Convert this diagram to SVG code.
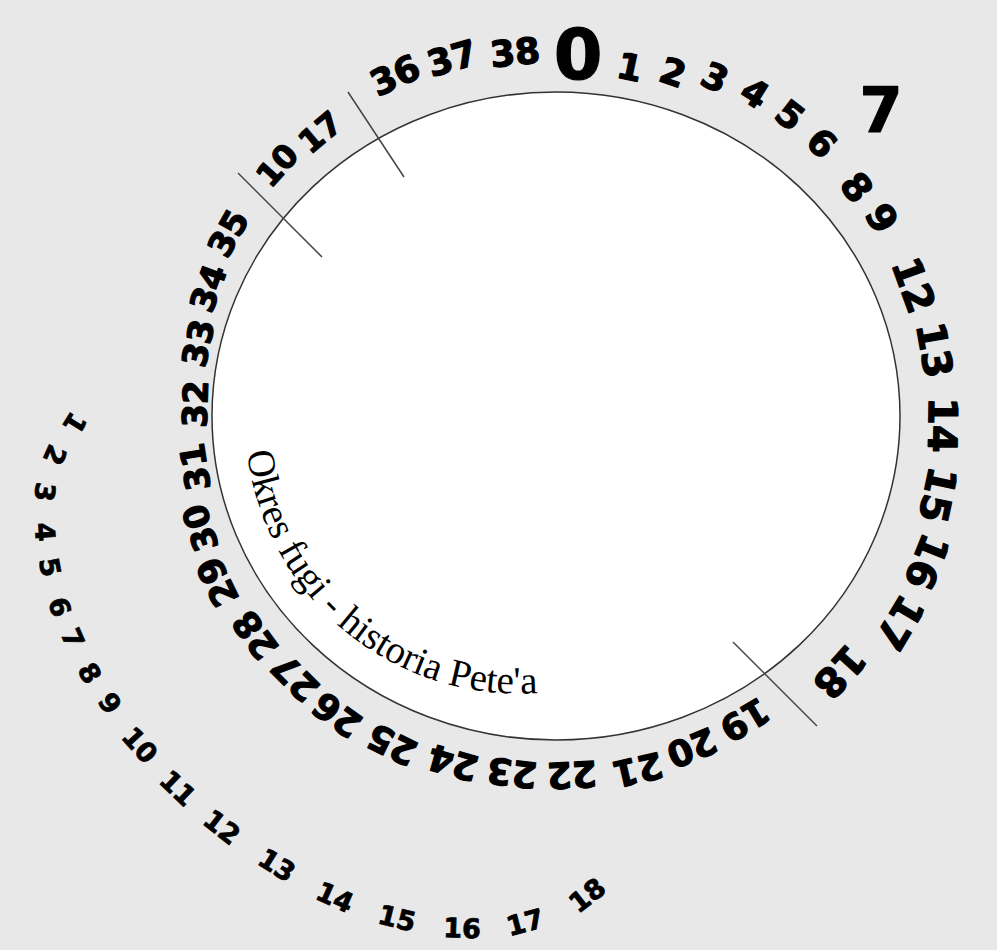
<svg xmlns="http://www.w3.org/2000/svg" width="997" height="950" viewBox="0 0 997 950">
<defs>
<style>
.n{font-family:"DejaVu Sans",sans-serif;font-weight:bold;text-anchor:middle;fill:#000;stroke:#000;stroke-width:1.2;stroke-linejoin:round}
.s{font-family:"DejaVu Sans",sans-serif;font-weight:bold;text-anchor:middle;fill:#000;stroke:#000;stroke-width:0.8;font-size:27px}
.tick{stroke:#444;stroke-width:1.5}
.title{font-family:"Liberation Serif","Times New Roman",serif;font-size:39px;fill:#000}
</style>
<path id="arc" d="M 247 452 A 274 274 0 0 0 720 606"/>
</defs>
<rect width="997" height="950" fill="#e8e8e8"/>
<g id="disc">
<ellipse cx="556" cy="416" rx="344" ry="324" fill="#fff" stroke="#333" stroke-width="1.5"/>
</g>
<g id="connectors">
<line class="tick" x1="348" y1="92" x2="404" y2="177"/>
<line class="tick" x1="238" y1="173" x2="322" y2="257"/>
<line class="tick" x1="733" y1="642" x2="817" y2="726"/>
</g>
<g id="title">
<text class="title"><textPath href="#arc">Okres fugi - historia Pete'a</textPath></text>
</g>
<g id="ring">
<text class="n" font-size="36" dy="0.36em" transform="translate(395,75) rotate(-25)">36</text>
<text class="n" font-size="36" dy="0.36em" transform="translate(452,58) rotate(-16)">37</text>
<text class="n" font-size="36" dy="0.36em" transform="translate(515,52) rotate(-6)">38</text>
<text class="n" font-size="70" dy="0.36em" transform="translate(578,54)">0</text>
<text class="n" font-size="36" dy="0.36em" transform="translate(630,67) rotate(12)">1</text>
<text class="n" font-size="36" dy="0.36em" transform="translate(673,72) rotate(19)">2</text>
<text class="n" font-size="36" dy="0.36em" transform="translate(715,77) rotate(25)">3</text>
<text class="n" font-size="36" dy="0.36em" transform="translate(755,93) rotate(32)">4</text>
<text class="n" font-size="36" dy="0.36em" transform="translate(790,115) rotate(38)">5</text>
<text class="n" font-size="36" dy="0.36em" transform="translate(822,143) rotate(44)">6</text>
<text class="n" font-size="62" dy="0.36em" transform="translate(881,110)">7</text>
<text class="n" font-size="38" dy="0.36em" transform="translate(857,187) rotate(53)">8</text>
<text class="n" font-size="38" dy="0.36em" transform="translate(882,218) rotate(59)">9</text>
<text class="n" font-size="40" dy="0.36em" transform="translate(914,285) rotate(70)">12</text>
<text class="n" font-size="40" dy="0.36em" transform="translate(935,350) rotate(80)">13</text>
<text class="n" font-size="40" dy="0.36em" transform="translate(943,425) rotate(91)">14</text>
<text class="n" font-size="40" dy="0.36em" transform="translate(938,495) rotate(102)">15</text>
<text class="n" font-size="40" dy="0.36em" transform="translate(927,562) rotate(112)">16</text>
<text class="n" font-size="40" dy="0.36em" transform="translate(900,623) rotate(121)">17</text>
<text class="n" font-size="40" dy="0.36em" transform="translate(840,672) rotate(132)">18</text>
<text class="n" font-size="36" dy="0.36em" transform="translate(745,720) rotate(149)">19</text>
<text class="n" font-size="36" dy="0.36em" transform="translate(692,748) rotate(158)">20</text>
<text class="n" font-size="36" dy="0.36em" transform="translate(638,770) rotate(167)">21</text>
<text class="n" font-size="36" dy="0.36em" transform="translate(572,775) rotate(177)">22</text>
<text class="n" font-size="36" dy="0.36em" transform="translate(512,773) rotate(187)">23</text>
<text class="n" font-size="36" dy="0.36em" transform="translate(453,763) rotate(196)">24</text>
<text class="n" font-size="36" dy="0.36em" transform="translate(392,745) rotate(206)">25</text>
<text class="n" font-size="36" dy="0.36em" transform="translate(337,715) rotate(216)">26</text>
<text class="n" font-size="36" dy="0.36em" transform="translate(295,678) rotate(225)">27</text>
<text class="n" font-size="36" dy="0.36em" transform="translate(255,635) rotate(234)">28</text>
<text class="n" font-size="36" dy="0.36em" transform="translate(217,582) rotate(244)">29</text>
<text class="n" font-size="34" dy="0.36em" transform="translate(200,528) rotate(252)">30</text>
<text class="n" font-size="34" dy="0.36em" transform="translate(195,467) rotate(261)">31</text>
<text class="n" font-size="34" dy="0.36em" transform="translate(195,404) rotate(-88)">32</text>
<text class="n" font-size="34" dy="0.36em" transform="translate(198,343) rotate(-78)">33</text>
<text class="n" font-size="34" dy="0.36em" transform="translate(208,288) rotate(-70)">34</text>
<text class="n" font-size="34" dy="0.36em" transform="translate(228,233) rotate(-61)">35</text>
<text class="n" font-size="32" dy="0.36em" transform="translate(277,165) rotate(-48)">10</text>
<text class="n" font-size="32" dy="0.36em" transform="translate(320,132) rotate(-40)">17</text>
</g>
<g id="spiral">
<text class="s" dy="0.36em" transform="translate(75,423) rotate(122)">1</text>
<text class="s" dy="0.36em" transform="translate(55,455) rotate(114)">2</text>
<text class="s" dy="0.36em" transform="translate(45,492) rotate(97)">3</text>
<text class="s" dy="0.36em" transform="translate(45,532) rotate(86)">4</text>
<text class="s" dy="0.36em" transform="translate(50,567) rotate(79)">5</text>
<text class="s" dy="0.36em" transform="translate(60,607) rotate(72)">6</text>
<text class="s" dy="0.36em" transform="translate(73,638) rotate(66)">7</text>
<text class="s" dy="0.36em" transform="translate(90,673) rotate(60)">8</text>
<text class="s" dy="0.36em" transform="translate(110,703) rotate(55)">9</text>
<text class="s" dy="0.36em" transform="translate(140,745) rotate(48)">10</text>
<text class="s" dy="0.36em" transform="translate(178,788) rotate(44)">11</text>
<text class="s" dy="0.36em" transform="translate(222,827) rotate(38)">12</text>
<text class="s" dy="0.36em" transform="translate(277,865) rotate(32)">13</text>
<text class="s" dy="0.36em" transform="translate(335,897) rotate(24)">14</text>
<text class="s" dy="0.36em" transform="translate(397,918) rotate(14)">15</text>
<text class="s" dy="0.36em" transform="translate(462,928) rotate(2)">16</text>
<text class="s" dy="0.36em" transform="translate(525,922) rotate(-15)">17</text>
<text class="s" dy="0.36em" transform="translate(587,895) rotate(-38)">18</text>
</g>
</svg>
